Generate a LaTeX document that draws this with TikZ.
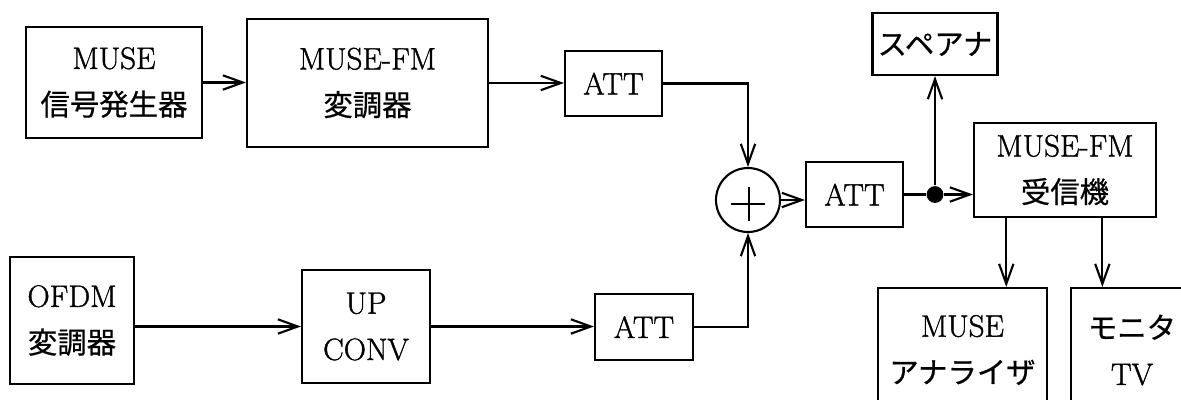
\documentclass[tikz,border=0pt]{standalone}
\usepackage{fontspec}
\setmainfont{Latin Modern Roman}[FakeBold=1.2]
\newfontfamily\jp{Noto Sans CJK JP}[Scale=0.95,FakeBold=0.6]
\usetikzlibrary{arrows.meta,calc}
\begin{document}
\begin{tikzpicture}[
  line width=1.5pt,
  arr/.style={-{Straight Barb[length=0.5cm,width=0.36cm,line width=1.5pt]}},
  blk/.style={draw, line width=1.5pt, align=center, inner sep=0pt,
     font=\fontsize{22pt}{33pt}\selectfont},
  dotnode/.style={circle, fill=black, inner sep=0pt, minimum size=0.42cm}
]
\useasboundingbox (0,0) rectangle (29.525,-9.975);
\clip (0,0) rectangle (29.525,-9.975);

% top row
\node[blk, minimum width=4.4cm, minimum height=2.775cm] (gen) at (2.85,-2.0625) {MUSE\\{\jp 信号発生器}};
\node[blk, minimum width=6.025cm, minimum height=3.2cm] (mod) at (9.1875,-2.075) {MUSE-FM\\{\jp 変調器}};
\node[blk, minimum width=2.425cm, minimum height=1.625cm] (att1) at (15.3375,-2.0875) {ATT};

% bottom row
\node[blk, minimum width=3.1cm, minimum height=3.175cm] (ofdm) at (1.8,-8.0125) {OFDM\\{\jp 変調器}};
\node[blk, minimum width=3.2cm, minimum height=2.825cm] (up) at (9.15,-8.1625) {UP\\CONV};
\node[blk, minimum width=2.45cm, minimum height=1.65cm] (att2) at (16.1,-8.175) {ATT};

% combiner
\node[draw, circle, line width=1.5pt, minimum size=1.6cm, inner sep=0pt] (sum) at (18.7,-5.0) {};
\draw ($(sum)+(-0.42,-0.1)$) -- ($(sum)+(0.42,-0.1)$);
\draw ($(sum)+(0.03,0.32)$) -- ($(sum)+(0.03,-0.52)$);

\node[blk, minimum width=2.425cm, minimum height=1.625cm] (att3) at (21.3625,-4.8625) {ATT};
\node[dotnode] (dot) at (23.375,-4.8625) {};
\node[blk, minimum width=3.125cm, minimum height=1.55cm] (spa) at (23.375,-1.1) {\jp スペアナ};
\node[blk, minimum width=4.55cm, minimum height=2.35cm] (rx) at (26.625,-4.25) {MUSE-FM\\{\jp 受信機}};

\node[blk, minimum width=4.225cm, minimum height=3.1cm] (ana) at (24.0625,-8.75) {MUSE\\{\jp アナライザ}};
\node[blk, minimum width=3.05cm, minimum height=3.1cm] (mon) at (28.3,-8.75) {{\jp モニタ}\\TV};

% connectors
\draw[arr] (gen.east) -- (mod.west |- gen.east);
\draw[arr] (mod.east) -- (att1.west |- mod.east);
\draw[arr] (att1.east) -| (sum.north);
\draw[arr] (ofdm.east |- up.west) -- (up.west);
\draw[arr] (up.east) -- (att2.west |- up.east);
\draw[arr] (att2.east) -| (sum.south);
\draw[arr] (sum.east) -- (att3.west |- sum.east);
\draw (att3.east) -- (dot);
\draw[arr] (dot) -- (rx.west |- dot);
\draw[arr] (dot) -- (spa.south);
\coordinate (r1) at ($(rx.south west)!0.181!(rx.south east)$);
\coordinate (r2) at ($(rx.south west)!0.703!(rx.south east)$);
\draw[arr] (r1) -- (r1 |- ana.north);
\draw[arr] (r2) -- (r2 |- mon.north);
\end{tikzpicture}
\end{document}
